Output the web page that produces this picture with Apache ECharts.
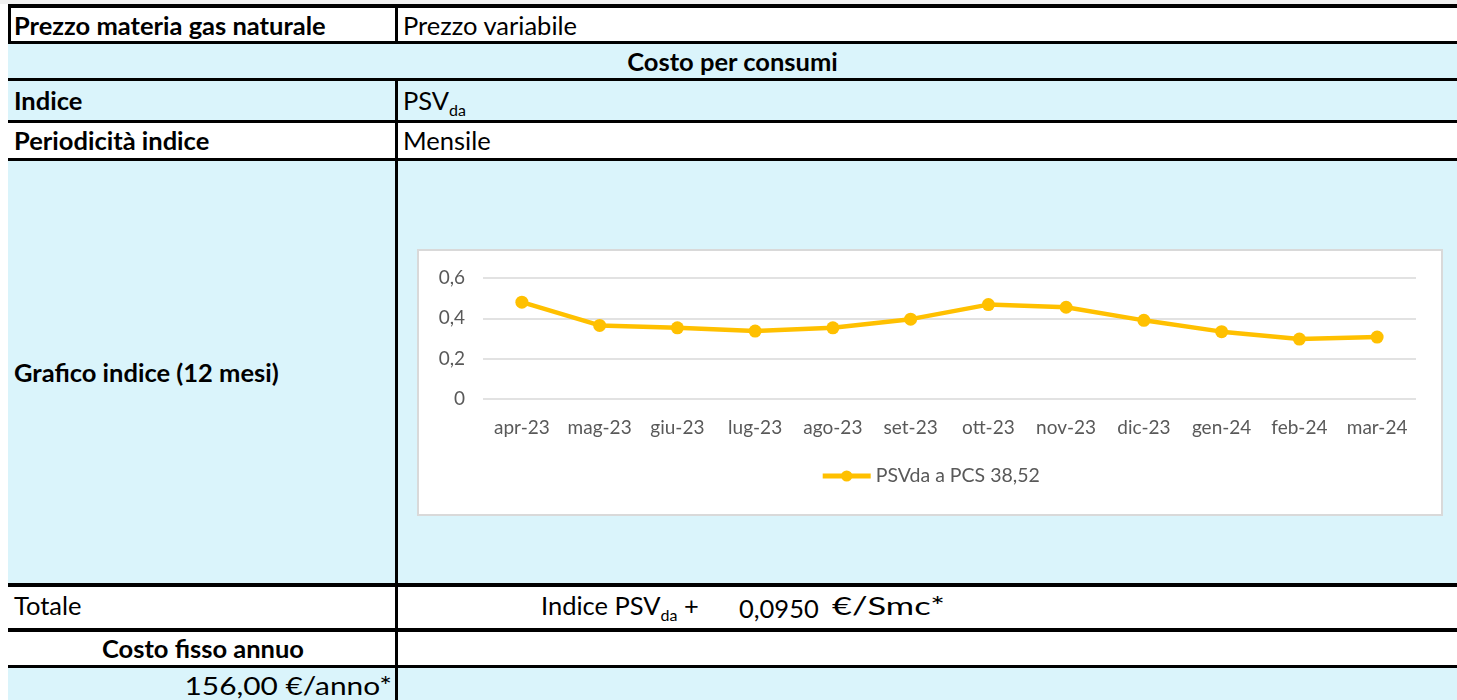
<!DOCTYPE html>
<html>
<head>
<meta charset="utf-8">
<script src="https://cdn.jsdelivr.net/npm/echarts@6/dist/echarts.min.js"></script>
<style>
  body { margin: 0; width: 1457px; height: 700px; overflow: hidden; background: #fff; font-family: Lato, "Open Sans", sans-serif; color: #000; position: relative; }
  .abs { position: absolute; }
  .fill { position: absolute; left: 8px; right: 0; }
  .blue { background: #daf4fb; }
  .hline { position: absolute; left: 8px; right: 0; background: #000; }
  .vline { position: absolute; left: 395px; width: 3px; background: #000; }
  .t { position: absolute; white-space: nowrap; font-size: 25.5px; height: 30px; line-height: 30px; }
  .b { font-weight: bold; }
  sub { font-size: 16px; vertical-align: -6px; line-height: 0; }
  #box { position: absolute; left: 417px; top: 249px; width: 1026px; height: 267px; box-sizing: border-box; border: 2px solid #d9d9d9; background: #fff; }
  #chart { position: absolute; left: 0; top: 0; width: 1022px; height: 263px; }
</style>
</head>
<body>
<div class="abs" style="left:0;top:0;width:1457px;height:4px;background:#f0f0f0"></div>

<!-- row fills -->
<div class="fill blue" style="top:44px;height:34px"></div>
<div class="fill blue" style="top:81px;height:39px"></div>
<div class="fill blue" style="top:161px;height:422px"></div>
<div class="fill blue" style="top:668px;height:32px"></div>

<!-- borders -->
<div class="hline" style="top:4px;height:4px"></div>
<div class="hline" style="top:41px;height:3px"></div>
<div class="hline" style="top:78px;height:3px"></div>
<div class="hline" style="top:120px;height:3px"></div>
<div class="hline" style="top:158px;height:3px"></div>
<div class="hline" style="top:583px;height:4px"></div>
<div class="hline" style="top:628px;height:4px"></div>
<div class="hline" style="top:665px;height:3px"></div>
<div class="abs" style="left:8px;top:4px;width:3px;height:40px;background:#000"></div>
<div class="vline" style="top:8px;height:33px"></div>
<div class="vline" style="top:81px;height:619px"></div>

<!-- texts -->
<div class="t b" style="left:14px;top:10px">Prezzo materia gas naturale</div>
<div class="t" style="left:403px;top:10px">Prezzo variabile</div>
<div class="t b" style="left:8px;right:0;top:46px;text-align:center">Costo per consumi</div>
<div class="t b" style="left:14px;top:85px">Indice</div>
<div class="t" style="left:403px;top:85px">PSV<sub>da</sub></div>
<div class="t b" style="left:14px;top:125px">Periodicità indice</div>
<div class="t" style="left:403px;top:125px">Mensile</div>
<div class="t b" style="left:14px;top:357px">Grafico indice (12 mesi)</div>
<div class="t" style="left:14px;top:590px">Totale</div>
<div class="t" style="left:541px;top:590px">Indice PSV<sub>da</sub> +</div>
<div class="t" style="left:739px;top:593px">0,0950</div>
<div class="t" style="left:832px;top:590px;transform:scaleX(1.35);transform-origin:left center">€/Smc*</div>
<div class="t b" style="left:11px;width:384px;top:633px;text-align:center">Costo fisso annuo</div>
<div class="t" style="left:11px;width:381px;top:670px;text-align:right;transform:scaleX(1.17);transform-origin:right center">156,00 €/anno*</div>

<div id="box"><div id="chart"></div></div>

<script>
  const months = ['apr-23', 'mag-23', 'giu-23', 'lug-23', 'ago-23', 'set-23', 'ott-23', 'nov-23', 'dic-23', 'gen-24', 'feb-24', 'mar-24'];
  const psvValues = [0.480, 0.365, 0.353, 0.337, 0.353, 0.396, 0.468, 0.455, 0.390, 0.334, 0.297, 0.307];
  const seriesName = 'PSVda a PCS 38,52';

  const chart = echarts.init(document.getElementById('chart'), null, { renderer: 'canvas' });
  chart.setOption({
    animation: false,
    textStyle: { fontFamily: 'Lato, "Open Sans", sans-serif' },
    grid: { left: 64, right: 25, top: 27, height: 121 },
    legend: {
      data: [seriesName],
      bottom: 23,
      left: 'center',
      itemWidth: 48,
      itemHeight: 14,
      itemGap: 8,
      lineStyle: { width: 5 },
      textStyle: { color: '#595959', fontSize: 19.5 }
    },
    xAxis: {
      type: 'category',
      data: months,
      boundaryGap: true,
      axisLine: { show: false },
      axisTick: { show: false },
      axisLabel: { color: '#595959', fontSize: 19, margin: 19, interval: 0 }
    },
    yAxis: {
      type: 'value',
      min: 0,
      max: 0.6,
      interval: 0.2,
      axisLine: { show: false },
      axisTick: { show: false },
      splitLine: { lineStyle: { color: '#d9d9d9', width: 1.5 } },
      axisLabel: {
        color: '#595959',
        fontSize: 19,
        margin: 18,
        formatter: v => String(Math.round(v * 10) / 10).replace('.', ',')
      }
    },
    series: [{
      name: seriesName,
      type: 'line',
      data: psvValues,
      symbol: 'circle',
      symbolSize: 13,
      lineStyle: { color: '#ffc000', width: 4.5 },
      itemStyle: { color: '#ffc000' }
    }]
  });
</script>
</body>
</html>
